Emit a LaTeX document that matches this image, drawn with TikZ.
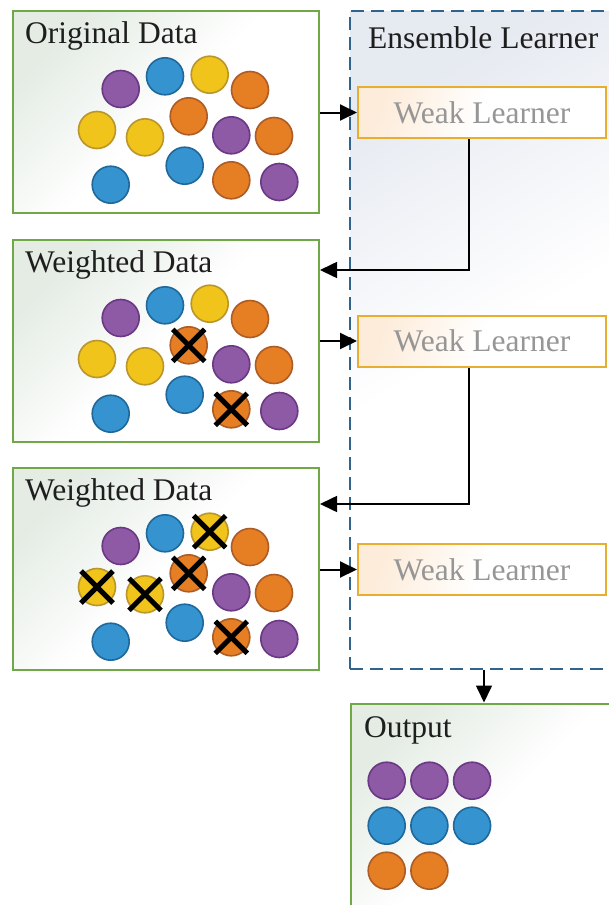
\documentclass[tikz,border=0pt]{standalone}
\usepackage{fontspec}
\setmainfont{Liberation Serif}
\usetikzlibrary{arrows.meta, positioning}
\definecolor{cPurple}{RGB}{142, 89, 165}
\definecolor{bPurple}{RGB}{106, 56, 132}
\definecolor{cBlue}{RGB}{53, 148, 208}
\definecolor{bBlue}{RGB}{30, 104, 156}
\definecolor{cYellow}{RGB}{240, 196, 26}
\definecolor{bYellow}{RGB}{186, 150, 42}
\definecolor{cOrange}{RGB}{230, 126, 36}
\definecolor{bOrange}{RGB}{172, 92, 36}
\definecolor{bData}{RGB}{112, 168, 72}
\definecolor{cData}{RGB}{228, 236, 228}
\definecolor{bEns}{RGB}{46, 100, 142}
\definecolor{cEns}{RGB}{230, 234, 241}
\definecolor{bWeak}{RGB}{232, 174, 48}
\definecolor{cWeak}{RGB}{253, 236, 218}
\definecolor{tWeak}{RGB}{150, 150, 150}
\definecolor{tDark}{RGB}{30, 30, 30}

% ball positions in the first data box: x/y/colour
\newcommand{\ballset}{108.7/79/Purple, 153/66.3/Blue, 197.7/64.7/Yellow, 238/80/Orange,
  85/120/Yellow, 133/127.3/Yellow, 176.7/106.3/Orange, 219.3/125.3/Purple, 262/126/Orange,
  172.7/155.7/Blue, 219.3/170.3/Orange, 267.3/172/Purple, 98.7/174.7/Blue}

\begin{document}
\begin{tikzpicture}[
    x=1pt, y=-1pt,
    font=\fontsize{31.5}{36}\selectfont,
    databox/.style={
        draw=bData, line width=2pt,
        top color=cData, bottom color=white, middle color=white, shading angle=45,
        minimum width=306pt, minimum height=202pt, inner sep=0pt
    },
    weakbox/.style={
        draw=bWeak, line width=2pt,
        top color=cWeak, bottom color=white, middle color=white, shading angle=70,
        minimum width=248pt, minimum height=51pt, inner sep=0pt,
        text=tWeak
    },
    title/.style={text=tDark, inner sep=0pt, anchor=north west},
    ball/.style={
        circle, draw=b#1, fill=c#1, line width=1.6pt,
        minimum size=37pt, inner sep=0pt
    },
    xmark/.style={line width=5pt, black},
    arrow/.style={-{Triangle[length=17pt, width=16pt]}, line width=2pt, black},
    back/.style={-{Triangle[length=17pt, width=16pt]}, line width=1.6pt, black}
]

\useasboundingbox (0,0) rectangle (609,905);
\clip (0,0) rectangle (609,905);

% Ensemble learner
\node[draw=bEns, line width=2pt, dash pattern=on 13pt off 7pt,
      top color=cEns, bottom color=white, middle color=white, shading angle=30,
      minimum width=268pt, minimum height=658pt, inner sep=0pt] (ens) at (484,340) {};
\node[title] (ensT) at ([shift={(19,16)}]ens.north west) {Ensemble Learner};

\node[weakbox] (weak1) at (482,112.5) {Weak Learner};
\node[weakbox] (weak2) at (482,341) {Weak Learner};
\node[weakbox] (weak3) at (482,569.5) {Weak Learner};

% Data boxes
\node[databox] (orig) at (166,112) {};
\node[title] (origT) at ([shift={(13,11)}]orig.north west) {Original Data};

\node[databox] (wdata1) at (166,341) {};
\node[title] (wdata1T) at ([shift={(13,11)}]wdata1.north west) {Weighted Data};

\node[databox] (wdata2) at (166,569) {};
\node[title] (wdata2T) at ([shift={(13,11)}]wdata2.north west) {Weighted Data};

\foreach \x/\y/\c [count=\i] in \ballset {
    \node[ball=\c] (a-\i) at (\x+12,\y+10) {};
    \node[ball=\c] (b-\i) at (\x+12,\y+239) {};
    \node[ball=\c] (c-\i) at (\x+12,\y+467) {};
}

\foreach \i in {7,11} {
    \draw[xmark] ([shift={(-16,-16)}]b-\i.center) -- ([shift={(16,16)}]b-\i.center);
    \draw[xmark] ([shift={(16,-16)}]b-\i.center) -- ([shift={(-16,16)}]b-\i.center);
}
\foreach \i in {3,5,6,7,11} {
    \draw[xmark] ([shift={(-16,-16)}]c-\i.center) -- ([shift={(16,16)}]c-\i.center);
    \draw[xmark] ([shift={(16,-16)}]c-\i.center) -- ([shift={(-16,16)}]c-\i.center);
}

% Output
\node[draw=bData, line width=2pt,
      top color=cData, bottom color=white, middle color=white, shading angle=45,
      minimum width=266pt, minimum height=240pt, inner sep=0pt] (out) at (484,823.5) {};
\node[title] (outT) at ([shift={(14,14)}]out.north west) {Output};

\foreach \c [count=\r] in {Purple, Blue} {
    \foreach \k in {1,2,3} {
        \node[ball=\c] (o-\r-\k) at (344 + 42.7*\k, 735.7 + 45*\r) {};
    }
}
\foreach \k in {1,2} {
    \node[ball=Orange] (o-3-\k) at (344 + 42.7*\k, 870.7) {};
}

% Connectors
\draw[arrow] (orig.east |- weak1) -- (weak1.west);
\draw[arrow] (wdata1.east |- weak2) -- (weak2.west);
\draw[arrow] (wdata2.east |- weak3) -- (weak3.west);
\draw[back] ([xshift=-13pt]weak1.south) |- ([shift={(0,31)}]wdata1.north east);
\draw[back] ([xshift=-13pt]weak2.south) |- ([shift={(0,37)}]wdata2.north east);
\draw[back] (ens.south) -- (out.north);

\end{tikzpicture}
\end{document}
